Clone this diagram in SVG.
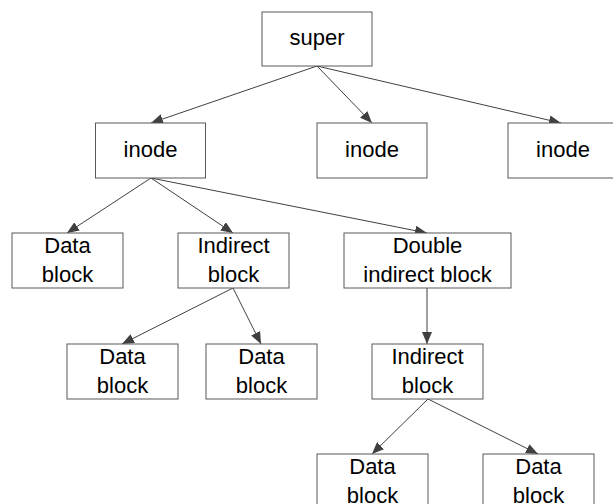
<svg xmlns="http://www.w3.org/2000/svg" width="613" height="504" viewBox="0 0 613 504">
  <style>
    .box { fill: #ffffff; stroke: #595959; stroke-width: 1; }
    .lbl { font-family: "Liberation Sans", Arial, sans-serif; font-size: 22px; fill: #000000; text-anchor: middle; }
    .edge { stroke: #404040; stroke-width: 1; fill: none; marker-end: url(#arrow); }
  </style>
  <defs>
    <marker id="arrow" viewBox="0 0 12 10" refX="12" refY="5" markerWidth="12" markerHeight="10" markerUnits="userSpaceOnUse" orient="auto">
      <path d="M0,0 L12,5 L0,10 Z" fill="#404040"/>
    </marker>
  </defs>
  <rect width="613" height="504" fill="#ffffff"/>

  <g id="connectors">
    <line class="edge" x1="317" y1="66" x2="151" y2="123"/>
    <line class="edge" x1="317" y1="66" x2="372" y2="123"/>
    <line class="edge" x1="317" y1="66" x2="561" y2="123"/>
    <line class="edge" x1="151" y1="178" x2="67" y2="233"/>
    <line class="edge" x1="151" y1="178" x2="233" y2="233"/>
    <line class="edge" x1="151" y1="178" x2="427" y2="233"/>
    <line class="edge" x1="233" y1="288" x2="122" y2="344"/>
    <line class="edge" x1="233" y1="288" x2="261" y2="344"/>
    <line class="edge" x1="427" y1="288" x2="427" y2="344"/>
    <line class="edge" x1="428" y1="399" x2="372" y2="454"/>
    <line class="edge" x1="428" y1="399" x2="538" y2="454"/>
  </g>

  <g id="super">
    <rect class="box" x="262" y="12" width="110" height="54"/>
    <text class="lbl" x="317" y="45">super</text>
  </g>
  <g id="inode1">
    <rect class="box" x="95.5" y="123" width="110" height="55"/>
    <text class="lbl" x="150.5" y="157">inode</text>
  </g>
  <g id="inode2">
    <rect class="box" x="317" y="123" width="110" height="55"/>
    <text class="lbl" x="372" y="157">inode</text>
  </g>
  <g id="inode3">
    <rect class="box" x="508" y="123" width="110" height="55"/>
    <text class="lbl" x="563" y="157">inode</text>
  </g>
  <g id="data1">
    <rect class="box" x="12" y="233" width="111" height="55"/>
    <text class="lbl" x="67.5" y="253">Data</text>
    <text class="lbl" x="67.5" y="282">block</text>
  </g>
  <g id="indirect1">
    <rect class="box" x="178" y="233" width="111" height="55"/>
    <text class="lbl" x="233.5" y="253">Indirect</text>
    <text class="lbl" x="233.5" y="282">block</text>
  </g>
  <g id="double-indirect">
    <rect class="box" x="344" y="233" width="167" height="55"/>
    <text class="lbl" x="427.5" y="253">Double</text>
    <text class="lbl" x="427.5" y="282">indirect block</text>
  </g>
  <g id="data2">
    <rect class="box" x="67" y="344" width="111" height="55"/>
    <text class="lbl" x="122.5" y="364">Data</text>
    <text class="lbl" x="122.5" y="393">block</text>
  </g>
  <g id="data3">
    <rect class="box" x="206" y="344" width="111" height="55"/>
    <text class="lbl" x="261.5" y="364">Data</text>
    <text class="lbl" x="261.5" y="393">block</text>
  </g>
  <g id="indirect2">
    <rect class="box" x="372" y="344" width="111" height="55"/>
    <text class="lbl" x="427.5" y="364">Indirect</text>
    <text class="lbl" x="427.5" y="393">block</text>
  </g>
  <g id="data4">
    <rect class="box" x="317" y="454" width="111" height="55"/>
    <text class="lbl" x="372.5" y="474">Data</text>
    <text class="lbl" x="372.5" y="503">block</text>
  </g>
  <g id="data5">
    <rect class="box" x="483" y="454" width="111" height="55"/>
    <text class="lbl" x="538.5" y="474">Data</text>
    <text class="lbl" x="538.5" y="503">block</text>
  </g>
</svg>
